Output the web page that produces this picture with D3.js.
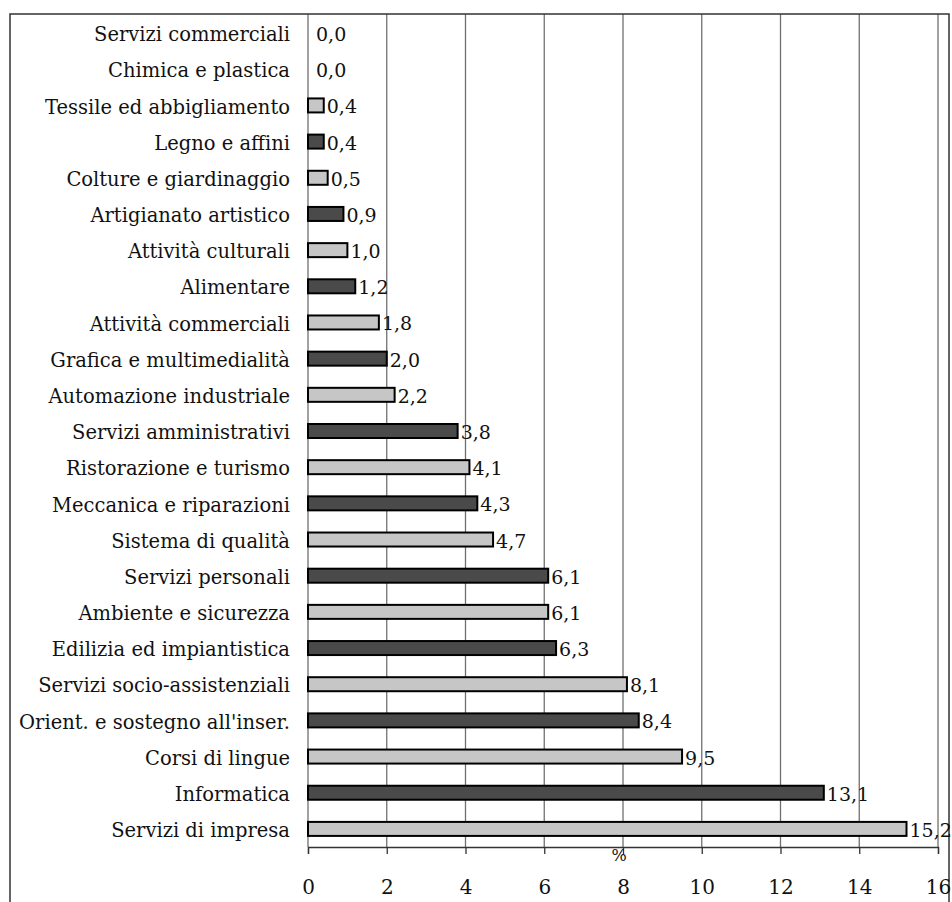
<!DOCTYPE html>
<html>
<head>
<meta charset="utf-8">
<script src="https://cdn.jsdelivr.net/npm/d3@7"></script>
<style>
  body { margin: 0; background: #fff; }
  svg text { fill: #111; }
</style>
</head>
<body>
<div id="chart"></div>
<script>
const categories = [
  'Servizi commerciali', 'Chimica e plastica', 'Tessile ed abbigliamento', 'Legno e affini',
  'Colture e giardinaggio', 'Artigianato artistico', 'Attività culturali', 'Alimentare',
  'Attività commerciali', 'Grafica e multimedialità', 'Automazione industriale',
  'Servizi amministrativi', 'Ristorazione e turismo', 'Meccanica e riparazioni',
  'Sistema di qualità', 'Servizi personali', 'Ambiente e sicurezza',
  'Edilizia ed impiantistica', 'Servizi socio-assistenziali',
  "Orient. e sostegno all'inser.", 'Corsi di lingue', 'Informatica', 'Servizi di impresa'
]
const values = [0.0, 0.0, 0.4, 0.4, 0.5, 0.9, 1.0, 1.2, 1.8, 2.0, 2.2, 3.8, 4.1, 4.3, 4.7,
  6.1, 6.1, 6.3, 8.1, 8.4, 9.5, 13.1, 15.2]
const ticks = [0, 2, 4, 6, 8, 10, 12, 14, 16]
const axisTitle = '%'

const W = 952, H = 902
const FONT = 'DejaVu Serif'
const frame = { left: 10, top: 14, right: 949 }
const plot = { left: 308, right: 938, top: 15, bottom: 847 }
const light = '#c6c6c6', dark = '#4a4a4a'
const fmt = v => v.toFixed(1).replace('.', ',')

let svg = d3.select('#chart').append('svg')
  .attr('width', W)
  .attr('height', H)
  .style('font-family', FONT)

let x = d3.scaleLinear().domain([0, 16]).range([plot.left, plot.right])
let y = d3.scaleBand().domain(categories).range([plot.top, plot.bottom])

// gridlines
svg.append('g')
  .selectAll('line')
  .data(ticks)
  .enter()
  .append('line')
  .attr('x1', d => x(d)).attr('x2', d => x(d))
  .attr('y1', frame.top).attr('y2', plot.bottom)
  .attr('stroke', '#707070')
  .attr('stroke-width', 1.3)

// frame (no bottom edge visible)
svg.append('path')
  .attr('d', 'M' + frame.left + ',' + H + 'V' + frame.top + 'H' + frame.right + 'V' + H)
  .attr('fill', 'none')
  .attr('stroke', '#333')
  .attr('stroke-width', 1.5)

// bars
let barH = 14
svg.append('g')
  .selectAll('rect')
  .data(categories)
  .enter()
  .filter((d, i) => values[i] > 0)
  .append('rect')
  .attr('x', x(0))
  .attr('y', d => y(d) + y.bandwidth() / 2 - barH / 2)
  .attr('width', d => x(values[categories.indexOf(d)]) - x(0))
  .attr('height', barH)
  .attr('fill', d => categories.indexOf(d) % 2 === 0 ? light : dark)
  .attr('stroke', '#000')
  .attr('stroke-width', 2)

// value labels
svg.append('g')
  .selectAll('text')
  .data(categories)
  .enter()
  .append('text')
  .attr('x', (d, i) => x(values[i]) + (values[i] > 0 ? 3 : 8))
  .attr('y', d => y(d) + y.bandwidth() / 2)
  .attr('dy', '0.42em')
  .style('font-family', FONT)
  .attr('font-size', 19)
  .text((d, i) => fmt(values[i]))

// category labels
svg.append('g')
  .selectAll('text')
  .data(categories)
  .enter()
  .append('text')
  .attr('x', plot.left - 18)
  .attr('y', d => y(d) + y.bandwidth() / 2)
  .attr('dy', '0.42em')
  .attr('text-anchor', 'end')
  .style('font-family', FONT)
  .attr('font-size', 19.5)
  .text(d => d)

// x axis
let axis = svg.append('g')
  .attr('transform', 'translate(0,' + plot.bottom + ')')
  .call(d3.axisBottom(x).tickValues(ticks).tickSize(7).tickFormat(d => d))
axis.attr('font-family', null)
axis.select('.domain').attr('stroke', '#333').attr('stroke-width', 1.3)
axis.selectAll('.tick line').attr('stroke', '#333').attr('stroke-width', 1.3)
axis.selectAll('.tick text')
  .attr('font-size', 20)
  .attr('y', 40)
  .attr('dy', '0.35em')
  .style('font-family', FONT)
  .attr('fill', '#111')

svg.append('text')
  .attr('x', x(8) - 4)
  .attr('y', plot.bottom + 8)
  .attr('dy', '0.35em')
  .attr('text-anchor', 'middle')
  .style('font-family', FONT)
  .attr('font-size', 16)
  .text(axisTitle)
</script>
</body>
</html>
